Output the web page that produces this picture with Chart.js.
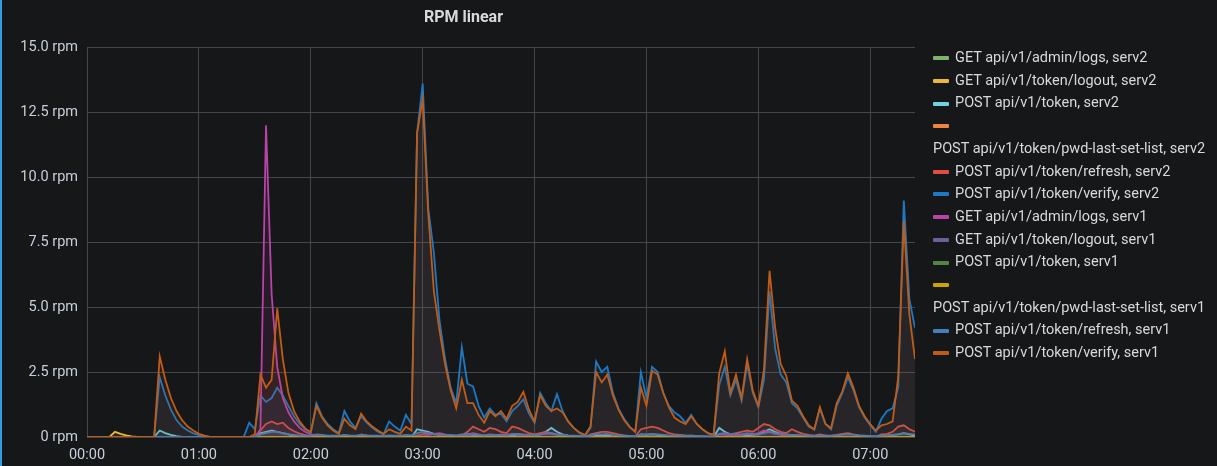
<!DOCTYPE html>
<html>
<head>
<meta charset="utf-8">
<script src="https://cdn.jsdelivr.net/npm/chart.js@4/dist/chart.umd.min.js"></script>
<style>
  html,body{margin:0;padding:0;background:#161719;}
  #wrap{position:relative;width:1217px;height:466px;overflow:hidden;background:#161719;}
  #edge{position:absolute;left:0;top:0;width:2px;height:466px;background:#2f9fe0;}
  #legend{position:absolute;left:933px;top:47px;width:284px;font-family:Roboto,"Noto Sans",sans-serif;font-size:14.5px;color:#d8d9da;line-height:22.7px;}
  #legend .item{display:block;}
  #legend .sw{display:inline-block;width:16px;height:4px;border-radius:1px;vertical-align:middle;margin-right:6px;}
  #legend .tx{display:inline-block;white-space:nowrap;}
</style>
</head>
<body>
<div id="wrap">
  <canvas id="c" width="1217" height="466"></canvas>
  <div id="edge"></div>
  <div id="legend"></div>
</div>
<script>
// time of each sample, minutes after 00:00
const minutes = [
0,3,6,9,12,15,18,21,24,27,
30,33,36,39,42,45,48,51,54,57,
60,63,66,69,72,75,78,81,84,87,
90,93,96,99,102,105,108,111,114,117,
120,123,126,129,132,135,138,141,144,147,
150,153,156,159,162,165,168,171,174,177,
180,183,186,189,192,195,198,201,204,207,
210,213,216,219,222,225,228,231,234,237,
240,243,246,249,252,255,258,261,264,267,
270,273,276,279,282,285,288,291,294,297,
300,303,306,309,312,315,318,321,324,327,
330,333,336,339,342,345,348,351,354,357,
360,363,366,369,372,375,378,381,384,387,
390,393,396,399,402,405,408,411,414,417,
420,423,426,429,432,435,438,441,444];

const xTickLabels = ['00:00','01:00','02:00','03:00','04:00','05:00','06:00','07:00'];

const seriesLabels = [
'GET api/v1/admin/logs, serv2',
'GET api/v1/token/logout, serv2',
'POST api/v1/token, serv2',
'POST api/v1/token/pwd-last-set-list, serv2',
'POST api/v1/token/refresh, serv2',
'POST api/v1/token/verify, serv2',
'GET api/v1/admin/logs, serv1',
'GET api/v1/token/logout, serv1',
'POST api/v1/token, serv1',
'POST api/v1/token/pwd-last-set-list, serv1',
'POST api/v1/token/refresh, serv1',
'POST api/v1/token/verify, serv1'];

const seriesColors = ['#7EB26D','#EAB839','#6ED0E0','#EF843C','#E24D42','#1F78C1','#BA43A9','#705DA0','#508642','#CCA300','#447EBC','#C15C17'];

const adminLogsServ2 = [
0,0,0,0,0,0,0,0,0,0, 0,0,0,0,0,0,0,0,0,0, 0,0,0,0,0,0,0,0,0,0,
0,0,0,0,0,0,0,0,0,0, 0,0,0,0,0,0,0,0,0,0, 0,0,0,0,0,0,0,0,0,0,
0,0,0,0,0,0,0,0,0,0, 0,0,0,0,0,0,0,0,0,0, 0,0,0,0,0,0,0,0,0,0,
0,0,0,0,0,0,0,0,0,0, 0,0,0,0,0,0,0,0,0,0, 0,0,0,0,0,0,0,0,0,0,
0,0,0,0,0,0,0,0,0,0, 0,0,0,0,0,0,0,0,0,0, 0,0,0,0,0,0,0,0,0];

const logoutServ2 = [
0,0,0,0,0,0.2,0.12,0.06,0.02,0, 0,0,0,0,0,0,0,0,0,0, 0,0,0,0,0,0,0,0,0,0,
0,0,0,0,0,0,0,0,0,0, 0,0,0,0,0,0,0,0,0,0, 0,0,0,0,0,0,0,0,0,0,
0,0,0,0,0,0,0,0,0,0, 0,0,0,0,0,0,0,0,0,0, 0,0,0,0,0,0,0,0,0,0,
0,0,0,0,0,0,0,0,0,0, 0,0,0,0,0,0,0,0,0,0, 0,0,0,0,0,0,0,0,0,0,
0,0,0,0,0,0,0,0,0,0, 0,0,0,0,0,0,0,0,0,0, 0,0,0,0,0,0,0,0,0];

const tokenServ2 = [
0,0,0,0,0,0,0,0,0,0,
0,0,0,0.25,0.15,0.08,0.03,0,0,0,
0,0,0,0,0,0,0,0,0,0,
0,0.15,0.2,0.25,0.2,0.15,0.1,0.05,0.02,0,
0,0,0,0,0,0,0,0,0,0,
0,0,0,0,0,0,0,0,0,0.3,
0.25,0.2,0.12,0.08,0.05,0.03,0.02,0.05,0.1,0.08,
0.05,0.03,0.05,0.04,0.03,0.02,0.05,0.1,0.08,0.05,
0.03,0.1,0.2,0.35,0.2,0.1,0.05,0.03,0,0,
0,0.05,0.08,0.05,0.03,0,0,0,0,0.1,
0.08,0.1,0.08,0.05,0.03,0.02,0,0,0,0,
0,0,0,0.35,0.2,0.1,0.05,0.03,0.05,0.08,
0.1,0.2,0.3,0.2,0.12,0.08,0.05,0.03,0.02,0,
0,0,0,0,0,0,0,0,0,0,
0,0,0,0.05,0.08,0.1,0.15,0.1,0.05];

const pwdListServ2 = [
0,0,0,0,0,0,0,0,0,0, 0,0,0,0,0,0,0,0,0,0, 0,0,0,0,0,0,0,0,0,0,
0,0,0,0,0,0,0,0,0,0, 0,0,0,0,0,0,0,0,0,0, 0,0,0,0,0,0,0,0,0,0,
0,0,0,0,0,0,0,0,0,0, 0,0,0,0,0,0,0,0,0,0, 0,0,0,0,0,0,0,0,0,0,
0,0,0,0,0,0,0,0,0,0, 0,0,0,0,0,0,0,0,0,0, 0,0,0,0,0,0,0,0,0,0,
0,0,0,0,0,0,0,0,0,0, 0,0,0,0,0,0,0,0,0,0, 0,0,0,0,0,0,0,0,0];

const refreshServ2 = [
0,0,0,0,0,0,0,0,0,0,
0,0,0,0,0,0,0,0,0,0,
0,0,0,0,0,0,0,0,0,0,
0,0.25,0.5,0.6,0.5,0.55,0.35,0.22,0.13,0.07,
0.03,0.05,0.03,0,0,0,0,0,0,0.1,
0.06,0.03,0,0,0,0,0,0,0,0.05,
0.1,0.15,0.1,0.08,0.05,0.04,0.03,0.05,0.2,0.4,
0.3,0.2,0.35,0.3,0.2,0.15,0.4,0.35,0.25,0.15,
0.1,0.15,0.2,0.15,0.1,0.08,0.05,0.03,0.02,0,
0.1,0.15,0.2,0.2,0.15,0.1,0.06,0.03,0.02,0.3,
0.35,0.4,0.35,0.25,0.15,0.1,0.08,0.06,0.05,0.03,
0.02,0,0,0.1,0.15,0.1,0.15,0.2,0.25,0.2,
0.35,0.5,0.45,0.3,0.2,0.15,0.3,0.2,0.12,0.08,
0.05,0.1,0.06,0.05,0.08,0.12,0.15,0.1,0.06,0.04,
0.02,0.02,0.1,0.12,0.2,0.4,0.45,0.3,0.2];

const verifyServ2 = [
0,0,0,0,0,0,0,0,0,0,
0,0,0,2.3,1.6,1.05,0.65,0.4,0.25,0.14,
0.07,0.03,0,0,0,0,0,0,0,0.55,
0.3,1.6,1.35,1.5,1.9,1.6,1.2,0.8,0.5,0.3,
0.18,1.3,0.8,0.5,0.3,0.15,1.0,0.6,0.35,0.8,
0.55,0.35,0.2,0.1,0.6,0.4,0.25,0.85,0.5,11.7,
13.6,8.8,7.1,4.5,3.0,1.9,1.3,3.45,2.05,1.95,
1.2,0.75,1.1,0.85,0.9,0.6,1.0,1.2,1.45,0.9,
0.55,1.7,1.3,1.0,1.65,1.0,0.6,0.35,0.15,0.05,
0.35,2.9,2.5,2.7,1.7,1.1,0.7,0.4,0.2,2.5,
1.5,2.7,2.5,1.7,1.2,0.95,0.8,0.55,0.85,0.5,
0.3,0.15,0.08,2.0,2.7,1.6,2.2,1.4,2.8,1.7,
1.15,2.2,5.6,3.4,2.4,2.1,1.3,1.1,0.75,0.4,
0.28,1.1,0.5,0.3,1.2,1.7,2.3,1.8,1.15,0.75,
0.45,0.2,0.7,1.0,1.1,1.9,9.1,5.3,4.2];

const adminLogsServ1 = [
0,0,0,0,0,0,0,0,0,0,
0,0,0,0,0,0,0,0,0,0,
0,0,0,0,0,0,0,0,0,0,
0,0.3,12.0,5.5,2.7,1.5,0.95,0.6,0.35,0.2,
0.1,0.05,0,0,0,0,0,0,0,0,
0,0,0,0,0,0,0,0,0,0,
0,0.08,0.12,0.15,0.1,0.06,0.04,0.05,0.1,0.15,
0.1,0.06,0.05,0.04,0.1,0.08,0.12,0.1,0.06,0.04,
0.03,0.1,0.15,0.12,0.08,0.05,0.03,0.02,0,0,
0,0,0,0,0,0,0,0,0,0,
0,0,0,0,0,0,0,0,0,0,
0,0,0,0.1,0.08,0.05,0.05,0.08,0.12,0.1,
0.15,0.25,0.2,0.12,0.08,0.05,0.03,0.02,0,0,
0,0,0,0,0,0,0,0,0,0,
0,0,0,0,0,0,0,0,0];

const logoutServ1 = [
0,0,0,0,0,0,0,0,0,0, 0,0,0,0,0,0,0,0,0,0, 0,0,0,0,0,0,0,0,0,0,
0,0,0,0,0,0,0,0,0,0, 0,0,0,0,0,0,0,0,0,0, 0,0,0,0,0,0,0,0,0,0,
0,0,0,0,0,0,0,0,0,0, 0,0,0,0,0,0,0,0,0,0, 0,0,0,0,0,0,0,0,0,0,
0,0,0,0,0,0,0,0,0,0, 0,0,0,0,0,0,0,0,0,0, 0,0,0,0,0,0,0,0,0,0,
0,0,0,0,0,0,0,0,0,0, 0,0,0,0,0,0,0,0,0,0, 0,0,0,0,0,0,0,0,0];

const tokenServ1 = [
0,0,0,0,0,0,0,0,0,0, 0,0,0,0,0,0,0,0,0,0, 0,0,0,0,0,0,0,0,0,0,
0,0,0,0,0,0,0,0,0,0, 0,0,0,0,0,0,0,0,0,0, 0,0,0,0,0,0,0,0,0,0,
0,0,0,0,0,0,0,0,0,0, 0,0,0,0,0,0,0,0,0,0, 0,0,0,0,0,0,0,0,0,0,
0,0,0,0,0,0,0,0,0,0, 0,0,0,0,0,0,0,0,0,0, 0,0,0,0,0,0,0,0,0,0,
0,0,0,0,0,0,0,0,0,0, 0,0,0,0,0,0,0,0,0,0, 0,0,0,0,0,0,0,0,0];

const pwdListServ1 = [
0,0,0,0,0,0,0,0,0,0, 0,0,0,0,0,0,0,0,0,0, 0,0,0,0,0,0,0,0,0,0,
0,0,0,0,0,0,0,0,0,0, 0,0,0,0,0,0,0,0,0,0, 0,0,0,0,0,0,0,0,0,0,
0,0,0,0,0,0,0,0,0,0, 0,0,0,0,0,0,0,0,0,0, 0,0,0,0,0,0,0,0,0,0,
0,0,0,0,0,0,0,0,0,0, 0,0,0,0,0,0,0,0,0,0, 0,0,0,0,0,0,0,0,0,0,
0,0,0,0,0,0,0,0,0,0, 0,0,0,0,0,0,0,0,0,0, 0,0,0,0,0,0,0,0,0];

const refreshServ1 = [
0,0,0,0,0,0,0,0,0,0,
0,0,0,0,0,0,0,0,0,0,
0,0,0,0,0,0,0,0,0,0,
0,0.1,0.15,0.2,0.2,0.15,0.1,0.08,0.05,0.05,
0.05,0.1,0.08,0.05,0.05,0.05,0.08,0.06,0.05,0.08,
0.06,0.05,0.05,0.04,0.06,0.05,0.05,0.08,0.06,0.15,
0.2,0.15,0.12,0.1,0.08,0.08,0.06,0.1,0.12,0.1,
0.08,0.06,0.1,0.08,0.08,0.06,0.1,0.12,0.1,0.08,
0.06,0.1,0.12,0.15,0.1,0.08,0.06,0.05,0.04,0.03,
0.05,0.12,0.1,0.12,0.08,0.06,0.05,0.04,0.03,0.1,
0.1,0.12,0.1,0.08,0.06,0.05,0.05,0.04,0.05,0.04,
0.03,0.03,0.03,0.12,0.15,0.1,0.12,0.1,0.15,0.12,
0.1,0.15,0.2,0.15,0.12,0.1,0.08,0.08,0.06,0.05,
0.04,0.06,0.05,0.04,0.06,0.08,0.1,0.08,0.06,0.05,
0.04,0.03,0.05,0.06,0.08,0.1,0.15,0.12,0.1];

const verifyServ1 = [
0,0,0,0,0,0,0,0,0,0,
0,0,0,3.1,2.2,1.5,1.0,0.65,0.4,0.25,
0.12,0.05,0,0,0,0,0,0,0,0,
0.1,2.4,1.9,2.2,4.95,3.0,1.7,1.0,0.6,0.33,
0.18,1.2,0.75,0.45,0.25,0.12,0.7,0.45,0.3,0.9,
0.6,0.4,0.25,0.12,0.3,0.2,0.12,0.4,0.25,11.7,
13.0,8.6,5.6,4.1,2.8,1.8,1.1,2.2,1.3,1.3,
0.85,0.55,1.0,0.8,1.0,0.7,1.2,1.35,1.74,1.05,
0.6,1.6,1.2,1.0,1.1,0.95,0.6,0.35,0.18,0.08,
0.4,2.5,2.1,2.4,1.6,1.05,0.65,0.38,0.2,1.9,
1.2,2.55,2.4,1.7,1.15,0.75,0.6,0.5,0.8,0.5,
0.3,0.15,0.08,2.45,3.3,1.7,2.4,1.5,3.0,1.8,
1.2,2.6,6.4,4.2,2.8,2.35,1.4,1.2,0.8,0.45,
0.3,1.15,0.5,0.35,1.3,1.75,2.45,1.9,1.2,0.8,
0.5,0.25,0.45,0.5,0.6,2.3,8.3,4.7,3.0];

const seriesValues = [adminLogsServ2, logoutServ2, tokenServ2, pwdListServ2, refreshServ2, verifyServ2,
  adminLogsServ1, logoutServ1, tokenServ1, pwdListServ1, refreshServ1, verifyServ1];

function rgba(hex, a){
  const n = parseInt(hex.slice(1),16);
  return 'rgba(' + ((n>>16)&255) + ',' + ((n>>8)&255) + ',' + (n&255) + ',' + a + ')';
}

const datasets = seriesLabels.map((label, i) => ({
  label: label,
  data: seriesValues[i].map((v, k) => ({x: minutes[k], y: v})),
  borderColor: seriesColors[i],
  backgroundColor: rgba(seriesColors[i], 0.1),
  borderWidth: 1.8,
  pointRadius: 0,
  fill: 'origin',
  tension: 0,
  order: -i
}));

const FONT = 'Roboto, "Noto Sans", sans-serif';
const TEXT = '#c7d0d9';
const GRID = '#46474a';

new Chart(document.getElementById('c'), {
  type: 'line',
  data: { datasets: datasets },
  options: {
    responsive: false,
    animation: false,
    layout: { padding: { left: 12, right: 302, top: 0, bottom: 0 } },
    plugins: {
      legend: { display: false },
      tooltip: { enabled: false },
      title: {
        display: true, text: 'RPM linear', color: '#d8d9da',
        font: { family: FONT, size: 16, weight: 'bold' },
        padding: { top: 8, bottom: 20 }
      }
    },
    scales: {
      x: {
        type: 'linear', min: 0, max: 444,
        grid: { color: GRID, drawTicks: false, lineWidth: 1 },
        border: { display: false },
        afterFit: s => { s.height = 29; },
        ticks: {
          stepSize: 60, includeBounds: false, autoSkip: false, maxRotation: 0,
          padding: 10, color: TEXT, font: { family: FONT, size: 14.5 },
          callback: v => xTickLabels[Math.round(v / 60)]
        }
      },
      y: {
        min: 0, max: 15,
        grid: { color: GRID, drawTicks: false, lineWidth: 1 },
        border: { display: false },
        afterFit: s => { s.width = 75; },
        ticks: {
          stepSize: 2.5, padding: 9, color: TEXT, font: { family: FONT, size: 14.5 },
          callback: v => v === 0 ? '0 rpm' : v.toFixed(1) + ' rpm'
        }
      }
    }
  }
});

const leg = document.getElementById('legend');
seriesLabels.forEach((label, i) => {
  const item = document.createElement('div');
  item.className = 'item';
  const sw = document.createElement('span');
  sw.className = 'sw';
  sw.style.background = seriesColors[i];
  const tx = document.createElement('span');
  tx.className = 'tx';
  tx.textContent = label;
  item.appendChild(sw);
  item.appendChild(tx);
  leg.appendChild(item);
});
</script>
</body>
</html>
